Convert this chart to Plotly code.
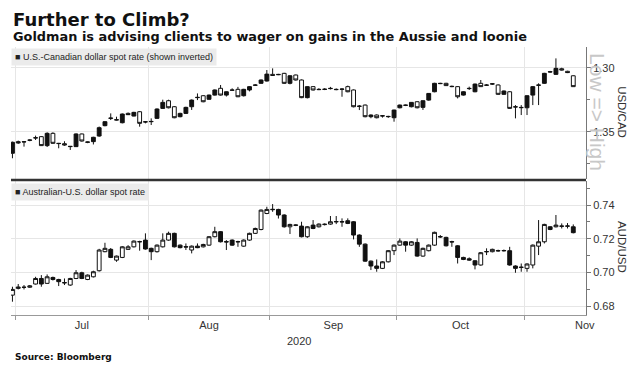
import pandas as pd
import plotly.graph_objects as go

# ---------------- data ----------------
dates = pd.bdate_range("2020-06-30", periods=98)

cad_open = [1.3669, 1.3578, 1.3578, 1.3565, 1.3547, 1.3539, 1.3609, 1.3513, 1.3591, 1.3594,
            1.3617, 1.3617, 1.3518, 1.3583, 1.3578, 1.3534, 1.3453, 1.3396, 1.3409, 1.3430,
            1.3357, 1.3378, 1.3344, 1.3422, 1.3422, 1.3396, 1.3318, 1.3258, 1.3305, 1.3383,
            1.3357, 1.3305, 1.3234, 1.3219, 1.3247, 1.3214, 1.3161, 1.3214, 1.3174, 1.3169,
            1.3219, 1.3174, 1.3135, 1.3122, 1.3104, 1.3052, 1.3052, 1.3044, 1.3122, 1.3057,
            1.3096, 1.3234, 1.3148, 1.3169, 1.3170, 1.3161, 1.3169, 1.3169, 1.3148, 1.3174,
            1.3300, 1.3292, 1.3383, 1.3370, 1.3375, 1.3383, 1.3391, 1.3313, 1.3292, 1.3305,
            1.3266, 1.3310, 1.3253, 1.3188, 1.3122, 1.3122, 1.3148, 1.3148, 1.3214, 1.3161,
            1.3188, 1.3122, 1.3135, 1.3128, 1.3135, 1.3208, 1.3188, 1.3305, 1.3310, 1.3313,
            1.3214, 1.3135, 1.3122, 1.3031, 1.3052, 1.3008, 1.3028, 1.3063]
cad_high = [1.3708, 1.3595, 1.3617, 1.3575, 1.3565, 1.3612, 1.3620, 1.3595, 1.3630, 1.3610,
            1.3643, 1.3620, 1.3578, 1.3590, 1.3600, 1.3540, 1.3458, 1.3409, 1.3412, 1.3435,
            1.3370, 1.3380, 1.3461, 1.3435, 1.3448, 1.3400, 1.3320, 1.3318, 1.3395, 1.3388,
            1.3362, 1.3330, 1.3253, 1.3270, 1.3250, 1.3218, 1.3218, 1.3225, 1.3180, 1.3230,
            1.3225, 1.3185, 1.3142, 1.3125, 1.3108, 1.3063, 1.3058, 1.3126, 1.3130, 1.3100,
            1.3238, 1.3240, 1.3178, 1.3175, 1.3175, 1.3170, 1.3176, 1.3227, 1.3192, 1.3310,
            1.3331, 1.3388, 1.3395, 1.3396, 1.3390, 1.3392, 1.3422, 1.3318, 1.3300, 1.3310,
            1.3318, 1.3330, 1.3258, 1.3192, 1.3128, 1.3143, 1.3152, 1.3240, 1.3218, 1.3174,
            1.3192, 1.3150, 1.3142, 1.3135, 1.3212, 1.3212, 1.3322, 1.3396, 1.3370, 1.3370,
            1.3292, 1.3292, 1.3126, 1.3038, 1.3056, 1.3022, 1.3042, 1.3150]
cad_low = [1.3578, 1.3570, 1.3575, 1.3560, 1.3531, 1.3535, 1.3505, 1.3505, 1.3588, 1.3575,
           1.3612, 1.3513, 1.3515, 1.3578, 1.3540, 1.3460, 1.3418, 1.3357, 1.3383, 1.3358,
           1.3350, 1.3345, 1.3340, 1.3418, 1.3396, 1.3318, 1.3250, 1.3250, 1.3300, 1.3352,
           1.3305, 1.3248, 1.3201, 1.3215, 1.3210, 1.3170, 1.3135, 1.3185, 1.3161, 1.3150,
           1.3165, 1.3145, 1.3128, 1.3092, 1.3018, 1.3005, 1.3048, 1.3040, 1.3058, 1.3054,
           1.3092, 1.3145, 1.3145, 1.3160, 1.3160, 1.3150, 1.3162, 1.3160, 1.3140, 1.3170,
           1.3292, 1.3288, 1.3365, 1.3365, 1.3370, 1.3376, 1.3328, 1.3288, 1.3288, 1.3268,
           1.3262, 1.3255, 1.3198, 1.3118, 1.3118, 1.3118, 1.3140, 1.3144, 1.3184, 1.3148,
           1.3124, 1.3096, 1.3128, 1.3120, 1.3130, 1.3178, 1.3184, 1.3292, 1.3292, 1.3215,
           1.3144, 1.3122, 1.3040, 1.3025, 1.2927, 1.3000, 1.3024, 1.3060]
cad_close = [1.3583, 1.3588, 1.3580, 1.3567, 1.3549, 1.3609, 1.3513, 1.3591, 1.3593, 1.3604,
             1.3615, 1.3518, 1.3573, 1.3581, 1.3544, 1.3469, 1.3422, 1.3394, 1.3407, 1.3362,
             1.3367, 1.3349, 1.3435, 1.3424, 1.3420, 1.3323, 1.3271, 1.3313, 1.3391, 1.3357,
             1.3310, 1.3253, 1.3232, 1.3266, 1.3214, 1.3174, 1.3214, 1.3188, 1.3176, 1.3227,
             1.3169, 1.3148, 1.3137, 1.3096, 1.3050, 1.3060, 1.3054, 1.3122, 1.3063, 1.3096,
             1.3234, 1.3148, 1.3174, 1.3171, 1.3168, 1.3163, 1.3171, 1.3167, 1.3188, 1.3305,
             1.3302, 1.3383, 1.3370, 1.3391, 1.3377, 1.3381, 1.3331, 1.3292, 1.3294, 1.3271,
             1.3313, 1.3258, 1.3201, 1.3122, 1.3124, 1.3140, 1.3146, 1.3227, 1.3188, 1.3163,
             1.3128, 1.3148, 1.3137, 1.3126, 1.3208, 1.3182, 1.3318, 1.3307, 1.3312, 1.3219,
             1.3148, 1.3137, 1.3044, 1.3033, 1.3005, 1.3018, 1.3038, 1.3148]

aud_open = [0.6865, 0.6905, 0.6911, 0.6912, 0.6931, 0.6964, 0.6935, 0.6970, 0.6958, 0.6940,
            0.6925, 0.6964, 0.6998, 0.6958, 0.6974, 0.7010, 0.7123, 0.7137, 0.7073, 0.7089,
            0.7137, 0.7152, 0.7183, 0.7192, 0.7143, 0.7123, 0.7152, 0.7192, 0.7232, 0.7162,
            0.7153, 0.7133, 0.7156, 0.7152, 0.7162, 0.7212, 0.7242, 0.7183, 0.7192, 0.7181,
            0.7156, 0.7192, 0.7232, 0.7255, 0.7350, 0.7375, 0.7374, 0.7341, 0.7271, 0.7282,
            0.7275, 0.7212, 0.7281, 0.7271, 0.7284, 0.7287, 0.7300, 0.7302, 0.7307, 0.7301,
            0.7222, 0.7168, 0.7067, 0.7038, 0.7024, 0.7063, 0.7129, 0.7162, 0.7182, 0.7162,
            0.7178, 0.7097, 0.7129, 0.7162, 0.7213, 0.7208, 0.7183, 0.7158, 0.7089, 0.7081,
            0.7069, 0.7044, 0.7122, 0.7123, 0.7130, 0.7128, 0.7129, 0.7038, 0.7029, 0.7024,
            0.7044, 0.7156, 0.7182, 0.7271, 0.7271, 0.7276, 0.7274, 0.7271]
aud_high = [0.6915, 0.6931, 0.6925, 0.6925, 0.6974, 0.6984, 0.6988, 0.6975, 0.6962, 0.6964,
            0.6968, 0.7014, 0.7004, 0.6988, 0.7010, 0.7140, 0.7176, 0.7145, 0.7100, 0.7156,
            0.7162, 0.7190, 0.7188, 0.7232, 0.7147, 0.7166, 0.7232, 0.7242, 0.7236, 0.7166,
            0.7172, 0.7160, 0.7172, 0.7170, 0.7216, 0.7271, 0.7246, 0.7192, 0.7196, 0.7188,
            0.7196, 0.7236, 0.7266, 0.7374, 0.7390, 0.7406, 0.7378, 0.7345, 0.7289, 0.7286,
            0.7301, 0.7275, 0.7311, 0.7291, 0.7291, 0.7335, 0.7335, 0.7321, 0.7321, 0.7305,
            0.7226, 0.7172, 0.7071, 0.7077, 0.7067, 0.7133, 0.7166, 0.7202, 0.7186, 0.7186,
            0.7202, 0.7147, 0.7166, 0.7242, 0.7222, 0.7212, 0.7188, 0.7162, 0.7093, 0.7089,
            0.7073, 0.7121, 0.7143, 0.7141, 0.7135, 0.7136, 0.7152, 0.7042, 0.7053, 0.7054,
            0.7166, 0.7311, 0.7289, 0.7275, 0.7341, 0.7291, 0.7293, 0.7285]
aud_low = [0.6826, 0.6899, 0.6899, 0.6908, 0.6928, 0.6915, 0.6932, 0.6952, 0.6919, 0.6925,
           0.6920, 0.6960, 0.6960, 0.6954, 0.6970, 0.7005, 0.7120, 0.7085, 0.7063, 0.7085,
           0.7133, 0.7148, 0.7129, 0.7135, 0.7073, 0.7118, 0.7148, 0.7188, 0.7148, 0.7143,
           0.7133, 0.7113, 0.7144, 0.7148, 0.7158, 0.7208, 0.7178, 0.7133, 0.7158, 0.7152,
           0.7152, 0.7188, 0.7228, 0.7250, 0.7346, 0.7360, 0.7320, 0.7266, 0.7228, 0.7275,
           0.7208, 0.7205, 0.7257, 0.7267, 0.7279, 0.7283, 0.7287, 0.7271, 0.7287, 0.7196,
           0.7152, 0.7063, 0.7014, 0.7004, 0.7020, 0.7059, 0.7103, 0.7158, 0.7123, 0.7158,
           0.7093, 0.7093, 0.7125, 0.7158, 0.7205, 0.7154, 0.7152, 0.7053, 0.7073, 0.7069,
           0.7018, 0.7040, 0.7103, 0.7119, 0.7123, 0.7124, 0.7040, 0.6998, 0.7004, 0.7004,
           0.7024, 0.7103, 0.7172, 0.7251, 0.7267, 0.7261, 0.7261, 0.7232]
aud_close = [0.6899, 0.6913, 0.6912, 0.6920, 0.6964, 0.6931, 0.6974, 0.6958, 0.6945, 0.6938,
             0.6964, 0.6998, 0.6964, 0.6984, 0.7004, 0.7133, 0.7143, 0.7089, 0.7097, 0.7152,
             0.7152, 0.7186, 0.7182, 0.7139, 0.7123, 0.7162, 0.7192, 0.7232, 0.7152, 0.7147,
             0.7151, 0.7156, 0.7147, 0.7166, 0.7212, 0.7242, 0.7182, 0.7181, 0.7162, 0.7183,
             0.7192, 0.7232, 0.7261, 0.7370, 0.7374, 0.7373, 0.7341, 0.7271, 0.7285, 0.7280,
             0.7212, 0.7271, 0.7261, 0.7287, 0.7286, 0.7301, 0.7302, 0.7300, 0.7291, 0.7222,
             0.7168, 0.7067, 0.7038, 0.7024, 0.7063, 0.7129, 0.7162, 0.7186, 0.7162, 0.7182,
             0.7097, 0.7143, 0.7162, 0.7238, 0.7211, 0.7158, 0.7181, 0.7089, 0.7077, 0.7073,
             0.7044, 0.7117, 0.7124, 0.7137, 0.7128, 0.7130, 0.7044, 0.7024, 0.7031, 0.7050,
             0.7162, 0.7182, 0.7285, 0.7255, 0.7281, 0.7274, 0.7276, 0.7236]

month_labels = ["Jul", "Aug", "Sep", "Oct", "Nov"]
cad_ticks = [1.30, 1.35]
aud_ticks = [0.68, 0.70, 0.72, 0.74]

# ---------------- positions on a business-day axis ----------------
x = list(range(len(dates)))
cal = pd.bdate_range(dates[0], "2020-11-30")
cal_month = [d.month for d in cal]
bounds, centers = [], []
for m in [7, 8, 9, 10, 11]:
    idx = [i for i, mm in enumerate(cal_month) if mm == m]
    b = idx[0] - 0.5
    bounds.append(b)
    centers.append(b + len(idx) / 2)

xr = [-0.25, 99.2]

FONT = "Liberation Sans, Arial, sans-serif"
NARROW = "Liberation Sans Narrow, Liberation Sans, sans-serif"
GRID = "#e6e6e6"

fig = go.Figure()
candle_style = dict(
    increasing=dict(line=dict(color="#111", width=1), fillcolor="white"),
    decreasing=dict(line=dict(color="#111", width=1), fillcolor="#111"),
    whiskerwidth=0, showlegend=False, hoverinfo="skip",
)
fig.add_trace(go.Candlestick(x=x, open=cad_open, high=cad_high, low=cad_low, close=cad_close,
                             xaxis="x2", yaxis="y2", **candle_style))
fig.add_trace(go.Candlestick(x=x, open=aud_open, high=aud_high, low=aud_low, close=aud_close,
                             xaxis="x", yaxis="y", **candle_style))

minor_grid = dict(tickmode="array", tickvals=bounds, showgrid=True, gridcolor=GRID, gridwidth=1)

fig.update_layout(
    width=641, height=365,
    margin=dict(l=11, r=55, t=47, b=50),
    paper_bgcolor="white", plot_bgcolor="white",
    showlegend=False,
    boxgap=0.05, boxgroupgap=0.3,
    xaxis=dict(domain=[0, 1], range=xr, anchor="y",
               tickmode="array", tickvals=centers, ticktext=month_labels, ticks="",
               showgrid=False, showline=True, linecolor="#999", linewidth=1,
               tickfont=dict(family=NARROW, size=11, color="#333"),
               minor=dict(minor_grid, ticks="outside", ticklen=4, tickcolor="#999"),
               rangeslider=dict(visible=False), zeroline=False),
    xaxis2=dict(domain=[0, 1], range=xr, anchor="y2", matches="x",
                tickmode="array", tickvals=centers, showticklabels=False, ticks="",
                showgrid=False, showline=False,
                minor=dict(minor_grid, ticks=""),
                rangeslider=dict(visible=False), zeroline=False),
    yaxis=dict(domain=[0, 0.5], range=[0.6747, 0.7543], side="right", anchor="x",
               tickmode="array", tickvals=aud_ticks, ticktext=[f"{v:.2f}" for v in aud_ticks],
               ticks="outside", ticklen=4, tickcolor="#777",
               showgrid=True, gridcolor=GRID, showline=True, linecolor="#777", linewidth=1,
               tickfont=dict(family=FONT, size=11, color="#333"),
               minor=dict(dtick=0.01, tick0=0.68, ticks="outside", ticklen=3, tickcolor="#777", showgrid=False),
               zeroline=False),
    yaxis2=dict(domain=[0.5075, 1], range=[1.387, 1.2838], side="right", anchor="x2",
                tickmode="array", tickvals=cad_ticks, ticktext=[f"{v:.2f}" for v in cad_ticks],
                ticks="outside", ticklen=4, tickcolor="#777",
                showgrid=True, gridcolor=GRID, showline=True, linecolor="#777", linewidth=1,
                tickfont=dict(family=FONT, size=11, color="#333"),
                minor=dict(dtick=0.025, tick0=1.30, ticks="outside", ticklen=3, tickcolor="#777", showgrid=False),
                zeroline=False),
)

fig.add_shape(type="line", xref="paper", yref="paper", x0=0, x1=1, y0=0.5037, y1=0.5037,
              line=dict(color="#333", width=2.5))

ann = []
ann.append(dict(text="<b>Further to Climb?</b>", x=0, y=1.104, xref="paper", yref="paper",
                xanchor="left", yanchor="middle", showarrow=False,
                font=dict(family="DejaVu Sans", size=18, color="#111")))
ann.append(dict(text="<b>Goldman is advising clients to wager on gains in the Aussie and loonie</b>",
                x=0, y=1.039, xref="paper", yref="paper", xanchor="left", yanchor="middle",
                showarrow=False, font=dict(family="DejaVu Sans", size=12.9, color="#111")))
ann.append(dict(text="■ U.S.-Canadian dollar spot rate (shown inverted)", x=0, y=0.997,
                xref="paper", yref="paper", xanchor="left", yanchor="top", showarrow=False,
                bgcolor="#ebebeb", borderpad=3, font=dict(family=FONT, size=9, color="#222")))
ann.append(dict(text="■ Australian-U.S. dollar spot rate", x=0, y=0.493,
                xref="paper", yref="paper", xanchor="left", yanchor="top", showarrow=False,
                bgcolor="#ebebeb", borderpad=3, font=dict(family=FONT, size=9, color="#222")))
ann.append(dict(text="Low => High", x=1.021, y=0.757, xref="paper", yref="paper",
                xanchor="center", yanchor="middle", textangle=90, showarrow=False,
                font=dict(family=FONT, size=21, color="#c8c8c8")))
ann.append(dict(text="USD/CAD", x=1.0626, y=0.757, xref="paper", yref="paper",
                xanchor="center", yanchor="middle", textangle=90, showarrow=False,
                font=dict(family=FONT, size=11.5, color="#333")))
ann.append(dict(text="AUD/USD", x=1.0626, y=0.254, xref="paper", yref="paper",
                xanchor="center", yanchor="middle", textangle=90, showarrow=False,
                font=dict(family=FONT, size=11.5, color="#333")))
ann.append(dict(text="2020", x=0.50, y=-0.096, xref="paper", yref="paper",
                xanchor="center", yanchor="middle", showarrow=False,
                font=dict(family=NARROW, size=11, color="#333")))
ann.append(dict(text="<b>Source: Bloomberg</b>", x=0.004, y=-0.156, xref="paper", yref="paper",
                xanchor="left", yanchor="middle", showarrow=False,
                font=dict(family="DejaVu Sans", size=9, color="#111")))
fig.update_layout(annotations=ann)

fig.write_html("out.html", config={"displayModeBar": False})

# remove the browser's default page margin so the figure sits at the window's corner
with open("out.html", encoding="utf-8") as f:
    html = f.read()
html = html.replace("<head>", "<head><style>html,body{margin:0;padding:0;overflow:hidden;}</style>", 1)
with open("out.html", "w", encoding="utf-8") as f:
    f.write(html)
